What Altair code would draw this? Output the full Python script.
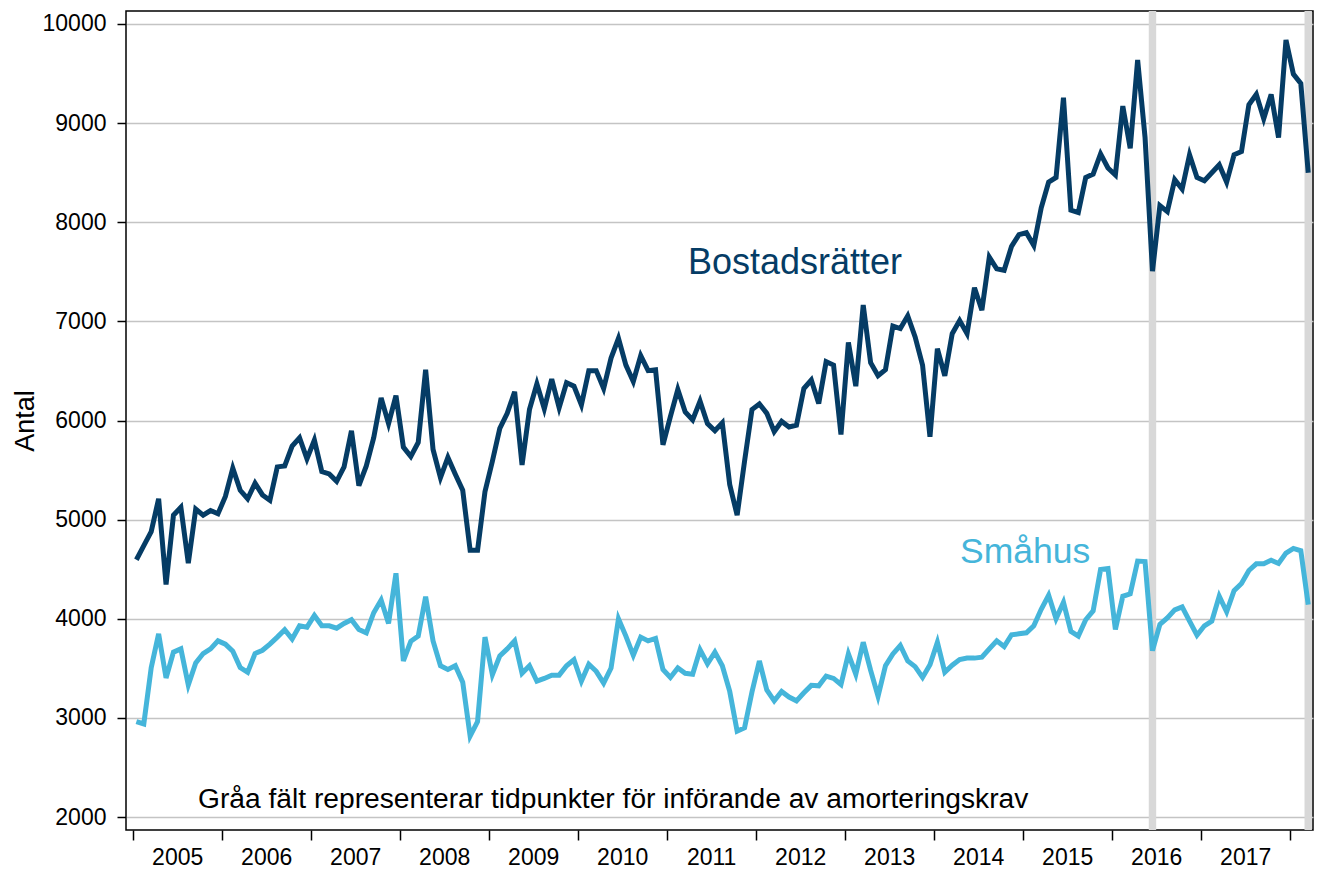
import altair as alt
import pandas as pd

# ---------------- data (monthly, Jan 2005 - Mar 2018) ----------------
bostadsratter = [
    4595, 4737, 4879, 5211, 4345, 5045, 5125, 4562, 5106, 5045, 5092, 5059,  # 2005
    5234, 5518, 5296, 5211, 5367, 5249, 5196, 5532, 5542, 5741, 5826, 5613,  # 2006
    5802, 5485, 5461, 5386, 5532, 5897, 5343, 5542, 5826, 6228, 5968, 6252,  # 2007
    5731, 5637, 5779, 6512, 5708, 5424, 5627, 5457, 5296, 4690, 4690, 5282,  # 2008
    5589, 5920, 6072, 6290, 5551, 6110, 6370, 6119, 6417, 6129, 6380, 6346,  # 2009
    6157, 6503, 6503, 6323, 6630, 6829, 6559, 6394, 6654, 6503, 6512, 5755,  # 2010
    6039, 6313, 6086, 6006, 6195, 5968, 5897, 5977, 5353, 5045, 5589, 6110,  # 2011
    6167, 6072, 5887, 5991, 5935, 5953, 6323, 6408, 6171, 6593, 6559, 5859,  # 2012
    6787, 6346, 7165, 6583, 6451, 6512, 6952, 6928, 7056, 6843, 6559, 5835,  # 2013
    6725, 6451, 6876, 7009, 6876, 7340, 7113, 7648, 7530, 7515, 7757, 7875,  # 2014
    7894, 7766, 8145, 8405, 8452, 9257, 8121, 8097, 8452, 8486, 8689, 8547,  # 2015
    8476, 9172, 8746, 9636, 8855, 7506, 8168, 8107, 8429, 8334, 8680, 8452,  # 2016
    8419, 8500, 8580, 8405, 8680, 8713, 9186, 9290, 9044, 9290, 8855, 9839,  # 2017
    9494, 9399, 8500,                                                        # 2018
]
smahus = [
    2963, 2939, 3507, 3848, 3403, 3663, 3696, 3332, 3554, 3649, 3696, 3777,  # 2005
    3744, 3672, 3507, 3460, 3649, 3682, 3744, 3815, 3890, 3796, 3929, 3915,  # 2006
    4033, 3929, 3929, 3905, 3953, 3990, 3891, 3858, 4061, 4189, 3953, 4459,  # 2007
    3574, 3773, 3825, 4222, 3777, 3526, 3489, 3526, 3361, 2817, 2963, 3815,  # 2008
    3436, 3626, 3696, 3777, 3450, 3526, 3370, 3398, 3431, 3431, 3526, 3587,  # 2009
    3370, 3541, 3470, 3351, 3503, 4000, 3825, 3631, 3815, 3777, 3801, 3488,  # 2010
    3408, 3503, 3450, 3441, 3688, 3546, 3663, 3526, 3267, 2866, 2901, 3261,  # 2011
    3574, 3281, 3172, 3267, 3210, 3172, 3253, 3328, 3323, 3422, 3398, 3337,  # 2012
    3645, 3441, 3763, 3479, 3219, 3526, 3645, 3730, 3574, 3517, 3408, 3536,  # 2013
    3763, 3460, 3531, 3588, 3603, 3603, 3612, 3696, 3777, 3720, 3839, 3848,  # 2014
    3858, 3929, 4095, 4237, 4000, 4166, 3872, 3825, 3990, 4080, 4497, 4506,  # 2015
    3891, 4227, 4251, 4582, 4577, 3678, 3943, 4009, 4090, 4120, 3976, 3834,  # 2016
    3929, 3976, 4227, 4071, 4284, 4355, 4487, 4554, 4554, 4591, 4558, 4662,  # 2017
    4710, 4686, 4142,                                                        # 2018
]
series_names = ["Bostadsrätter", "Småhus"]
start_year = 2005
year_ticks = list(range(2005, 2019))
y_ticks = list(range(2000, 10001, 1000))
# months (0 = Jan 2005) when amortization requirements were introduced
band_months = [137, 158]  # June 2016, March 2018
note_text = "Gråa fält representerar tidpunkter för införande av amorteringskrav"

# ---------------- styling ----------------
DARK = "#053c65"
LIGHT = "#45b5da"
BAND = "#d8d8d8"
FONT = "Liberation Sans"
PLOT_W, PLOT_H = 1187, 819
X_DOMAIN = [2004.925, 2018.262]
Y_DOMAIN = [1869, 10131]

# ---------------- tables ----------------
n = len(bostadsratter)
t = [start_year + (i + 0.5) / 12 for i in range(n)]
df = pd.DataFrame({
    "t": t * 2,
    "v": bostadsratter + smahus,
    "serie": [series_names[0]] * n + [series_names[1]] * n,
})
bands = pd.DataFrame({
    "t0": [start_year + m / 12 for m in band_months],
    "t1": [start_year + (m + 1) / 12 for m in band_months],
})

x_scale = alt.Scale(domain=X_DOMAIN, nice=False, zero=False)
y_scale = alt.Scale(domain=Y_DOMAIN, nice=False, zero=False)

x_axis = alt.Axis(
    values=year_ticks, title=None, grid=False, domain=False,
    tickSize=10, tickColor="black", tickWidth=1.5,
    labelOffset=44.5, labelExpr="datum.value < 2018 ? format(datum.value, 'd') : ''",
    labelFontSize=23, labelPadding=6, labelFont=FONT, labelColor="black",
    labelFlush=False, labelOverlap=False,
)
y_axis = alt.Axis(
    values=y_ticks, format="d", title="Antal", grid=True,
    gridColor="#c4c4c4", gridWidth=1.5, domain=False,
    tickSize=9, tickColor="black", tickWidth=1.5,
    labelFontSize=23, labelPadding=11, labelFont=FONT, labelColor="black",
    labelFlush=False, labelOverlap=False,
    titleFont=FONT, titleFontSize=27, titleFontWeight="normal", titleColor="black",
    titlePadding=3,
)

band_layer = alt.Chart(bands).mark_rect(color=BAND).encode(
    x=alt.X("t0:Q", scale=x_scale, axis=x_axis),
    x2="t1:Q",
    y=alt.value(0),
    y2=alt.value(PLOT_H),
)

line_layer = alt.Chart(df).mark_line(strokeWidth=5, strokeJoin="miter").encode(
    x=alt.X("t:Q", scale=x_scale, axis=x_axis),
    y=alt.Y("v:Q", scale=y_scale, axis=y_axis),
    color=alt.Color("serie:N", scale=alt.Scale(domain=series_names, range=[DARK, LIGHT]), legend=None),
    detail="serie:N",
)

def label(text, tx, vy, color, size):
    return alt.Chart(pd.DataFrame({"t": [tx], "v": [vy], "txt": [text]})).mark_text(
        align="left", baseline="alphabetic", font=FONT, fontSize=size, color=color
    ).encode(
        x=alt.X("t:Q", scale=x_scale),
        y=alt.Y("v:Q", scale=y_scale),
        text="txt:N",
    )

lbl_b = label(series_names[0], 2011.239, 7478, DARK, 36)
lbl_s = label(series_names[1], 2014.296, 4562, LIGHT, 35.5)
lbl_n = label(note_text, 2005.734, 2095, "black", 28.2)

chart = alt.layer(band_layer, line_layer, lbl_b, lbl_s, lbl_n).properties(
    width=PLOT_W, height=PLOT_H,
    padding={"left": 118, "top": 3, "right": 1, "bottom": 40},
    autosize=alt.AutoSizeParams(type="none"),
).configure_view(stroke="black", strokeWidth=1.5)

chart.save("out.html", embed_options={"renderer": "svg", "actions": False})
